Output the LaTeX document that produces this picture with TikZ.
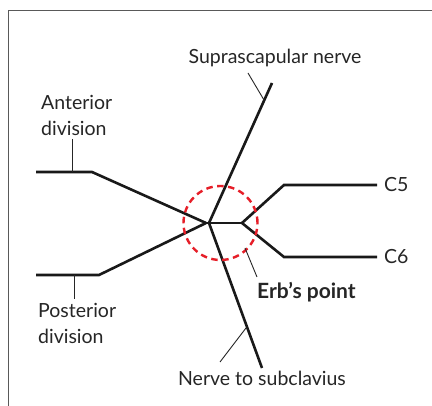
\documentclass[tikz,border=0pt]{standalone}
\usepackage{fontspec}
\setmainfont{Lato}
\begin{document}
\begin{tikzpicture}[x=1pt,y=-1pt,
  nerve/.style={line width=2.6pt,line join=miter,color=black!90},
  leader/.style={line width=0.9pt,color=black!85},
  lbl/.style={font=\fontsize{19.5}{26}\selectfont,color=black!85,inner sep=0pt},
  frame/.style={line width=1.4pt,color=black!65}]
\useasboundingbox (0,0) rectangle (432,406);
\fill[white] (0,0) rectangle (432,406);
\draw[frame] (8.5,406) -- (8.5,10.5) -- (432,10.5);
% junction points
\coordinate (J) at (206,223);
\coordinate (J2) at (242,223);
\coordinate (supT) at (272,83);
\coordinate (subB) at (262,368);
\coordinate (antL) at (36,172);
\coordinate (antK) at (92,172);
\coordinate (posL) at (36,275);
\coordinate (posK) at (99,275);
\coordinate (c5K) at (284,185);
\coordinate (c5R) at (377,185);
\coordinate (c6K) at (284,257);
\coordinate (c6R) at (377,257);
% nerves
\draw[nerve] (antL) -- (antK) -- (J);
\draw[nerve] (posL) -- (posK) -- (J);
\draw[nerve] (209,223) -- (supT);
\draw[nerve] (209,223) -- (subB);
\draw[nerve] (J) -- (J2);
\draw[nerve] (c5R) -- (c5K) -- (J2) -- (c6K) -- (c6R);
% Erb's point circle
\node[draw={rgb,255:red,230;green,30;blue,40}, line width=2.4pt, dash pattern=on 6.5pt off 4.5pt, circle, minimum size=74pt, inner sep=0pt] (erb) at (220.5,223) {};
% labels
\node[lbl] (sup) at (275,58) {Suprascapular nerve};
\node[lbl,anchor=west,align=left] (ant) at (41,115) {Anterior\\division};
\node[lbl,anchor=west,align=left] (pos) at (38,323) {Posterior\\division};
\node[lbl,anchor=west] (c5) at (384,185) {C5};
\node[lbl,anchor=west] (c6) at (384,257) {C6};
\node[lbl,anchor=west,font=\fontsize{21}{26}\selectfont\bfseries] (erbl) at (257,292) {Erb’s point};
\node[lbl] (sub) at (262,378) {Nerve to subclavius};
% leaders
\coordinate (l1a) at (248,73); \coordinate (l1b) at (264,100);
\draw[leader] (l1a) -- (l1b);
\coordinate (l2a) at (72,139); \coordinate (l2b) at (72,172);
\draw[leader] (l2a) -- (l2b);
\coordinate (l3a) at (74,275); \coordinate (l3b) at (74,299);
\draw[leader] (l3a) -- (l3b);
\coordinate (l4a) at (246,328); \coordinate (l4b) at (220,362);
\draw[leader] (l4a) -- (l4b);
\coordinate (l5a) at (245,248); \coordinate (l5b) at (257,277);
\draw[leader] (l5a) -- (l5b);
\end{tikzpicture}
\end{document}
